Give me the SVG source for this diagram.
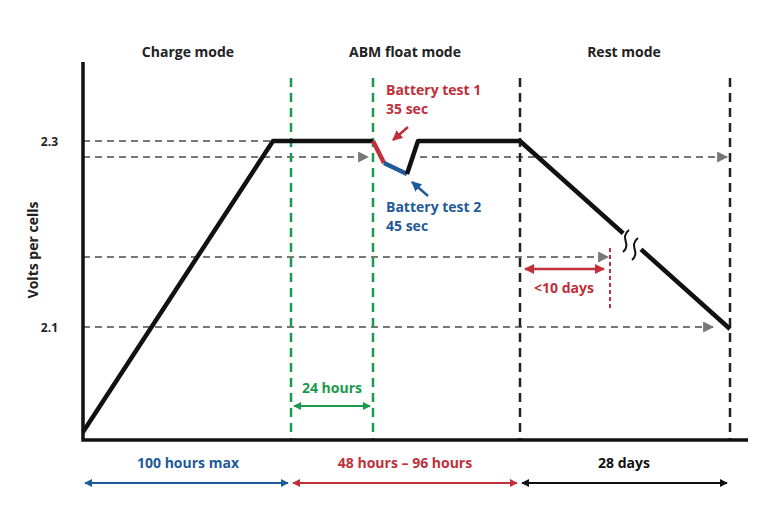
<svg xmlns="http://www.w3.org/2000/svg" width="768" height="522" viewBox="0 0 768 522">
<defs>
<style>
text{font-family:"Open Sans","Liberation Sans",sans-serif;font-weight:700;}
.t{font-size:14px;fill:#222;text-anchor:middle}
.g{stroke:#777;stroke-width:2.2;stroke-dasharray:7 5;fill:none}
.gd{stroke:#1a9b4b;stroke-width:2.5;stroke-dasharray:9 6}
.kd{stroke:#222;stroke-width:2.5;stroke-dasharray:9 6}
</style>
<marker id="ag" viewBox="0 0 10 10" refX="9" refY="5" markerWidth="5" markerHeight="5" orient="auto"><path d="M0,0L10,5L0,10z" fill="#777"/></marker>
<marker id="ab" viewBox="0 0 10 10" refX="9" refY="5" markerWidth="4" markerHeight="4" orient="auto-start-reverse"><path d="M0,0L10,5L0,10z" fill="#1f5a9a"/></marker>
<marker id="ar" viewBox="0 0 10 10" refX="9" refY="5" markerWidth="4" markerHeight="4" orient="auto-start-reverse"><path d="M0,0L10,5L0,10z" fill="#c0303a"/></marker>
<marker id="ak" viewBox="0 0 10 10" refX="9" refY="5" markerWidth="4" markerHeight="4" orient="auto-start-reverse"><path d="M0,0L10,5L0,10z" fill="#111"/></marker>
<marker id="agr" viewBox="0 0 10 10" refX="9" refY="5" markerWidth="4" markerHeight="4" orient="auto-start-reverse"><path d="M0,0L10,5L0,10z" fill="#1a9b4b"/></marker>
</defs>
<rect width="768" height="522" fill="#fff"/>
<g id="guides">
<path class="g" d="M83,141H275"/>
<path class="g" d="M83,157H368" marker-end="url(#ag)"/>
<path class="g" d="M420,157H727" marker-end="url(#ag)"/>
<path class="g" d="M83,257H608" marker-end="url(#ag)"/>
<path class="g" d="M83,327H713" marker-end="url(#ag)"/>
<line class="gd" x1="291" y1="78" x2="291" y2="440"/>
<line class="gd" x1="373" y1="78" x2="373" y2="440"/>
<line class="kd" x1="520" y1="78" x2="520" y2="440"/>
<line class="kd" x1="730" y1="78" x2="730" y2="440"/>
<line x1="610" y1="248" x2="610" y2="310" stroke="#c0303a" stroke-width="2" stroke-dasharray="4 3"/>
</g>
<g id="axes" stroke="#111" stroke-width="3.5" fill="none">
<path d="M83,62V440H748"/>
</g>
<g id="curve" fill="none" stroke-linejoin="round">
<path d="M83,432L273,141H373" stroke="#111" stroke-width="4.5"/>
<path d="M373,141L384,163" stroke="#c0303a" stroke-width="4.5"/>
<path d="M384,163L407,174" stroke="#1f5a9a" stroke-width="4.5"/>
<path d="M407,174L418,141H520L730,329" stroke="#111" stroke-width="4.5"/>
<rect x="626" y="230" width="11" height="24" fill="#fff" stroke="none" transform="rotate(-48 631.5 242)"/>
<path d="M629,230c-10,8 3,14 -6,22M638,238c-10,8 3,14 -6,22" stroke="#111" stroke-width="2"/>
</g>
<g id="test-arrows" stroke-width="2.5">
<line x1="408" y1="127" x2="393" y2="140" stroke="#c0303a" marker-end="url(#ar)"/>
<line x1="428" y1="196" x2="412" y2="182" stroke="#1f5a9a" marker-end="url(#ab)"/>
</g>
<g id="spans" stroke-width="2">
<line x1="294" y1="406" x2="370" y2="406" stroke="#1a9b4b" marker-start="url(#agr)" marker-end="url(#agr)"/>
<line x1="525" y1="269" x2="604" y2="269" stroke="#c0303a" stroke-width="2.5" marker-start="url(#ar)" marker-end="url(#ar)"/>
<line x1="85" y1="483" x2="288" y2="483" stroke="#1f5a9a" marker-start="url(#ab)" marker-end="url(#ab)"/>
<line x1="293" y1="483" x2="517" y2="483" stroke="#c0303a" marker-start="url(#ar)" marker-end="url(#ar)"/>
<line x1="522" y1="483" x2="727" y2="483" stroke="#111" marker-start="url(#ak)" marker-end="url(#ak)"/>
</g>
<g id="labels">
<text class="t" x="188" y="57">Charge mode</text>
<text class="t" x="405" y="57">ABM float mode</text>
<text class="t" x="624" y="57">Rest mode</text>
<text x="386" y="95" font-size="14" fill="#c0303a">Battery test 1</text>
<text x="386" y="114" font-size="14" fill="#c0303a">35 sec</text>
<text x="386" y="212" font-size="14" fill="#1f5a9a">Battery test 2</text>
<text x="386" y="231" font-size="14" fill="#1f5a9a">45 sec</text>
<text x="564" y="293" font-size="14" fill="#c0303a" text-anchor="middle">&lt;10 days</text>
<text x="332" y="393" font-size="14" fill="#1a9b4b" text-anchor="middle">24 hours</text>
<text x="188" y="468" font-size="14" fill="#1f5a9a" text-anchor="middle">100 hours max</text>
<text x="405" y="468" font-size="14" fill="#c0303a" text-anchor="middle">48 hours – 96 hours</text>
<text x="624" y="468" font-size="14" fill="#111" text-anchor="middle">28 days</text>
<text x="58" y="146" font-size="12" fill="#222" text-anchor="end">2.3</text>
<text x="58" y="332" font-size="12" fill="#222" text-anchor="end">2.1</text>
<text x="0" y="0" font-size="14" fill="#222" text-anchor="middle" transform="translate(38 250) rotate(-90)">Volts per cells</text>
</g>
</svg>
